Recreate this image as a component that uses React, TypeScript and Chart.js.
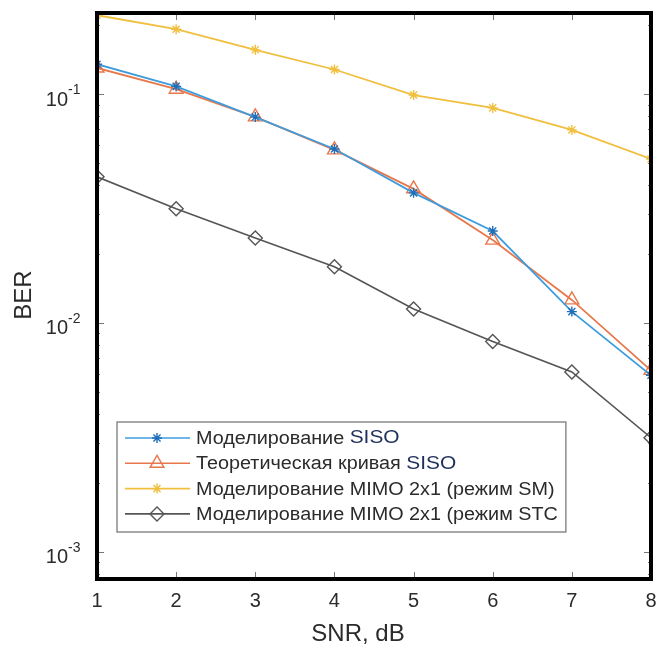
import React, { useEffect, useRef } from 'react';
import { Chart, registerables } from 'chart.js';
import { drawPoint } from 'chart.js/helpers';

Chart.register(...registerables);

// SNR values (dB)
const snr = [1, 2, 3, 4, 5, 6, 7, 8];
// Bit error rates
const berSisoSim = [0.135, 0.108, 0.0793, 0.0575, 0.037, 0.0252, 0.0112, 0.0059];
const berSisoTheory = [0.13, 0.105, 0.0795, 0.057, 0.0385, 0.023, 0.0126, 0.0062];
const berMimoSM = [0.221, 0.192, 0.156, 0.128, 0.099, 0.087, 0.0697, 0.052];
const berMimoSTC = [0.0435, 0.0315, 0.0235, 0.0176, 0.0115, 0.0083, 0.0061, 0.00315];

// Legend entries: main text plus highlighted tail
const legendMain = [
  'Моделирование ',
  'Теоретическая кривая ',
  'Моделирование MIMO 2x1 (режим SM)',
  'Моделирование MIMO 2x1 (режим STC',
];
const legendTail = ['SISO', 'SISO', '', ''];

// Axis settings
const xTicks = [1, 2, 3, 4, 5, 6, 7, 8];
const yDecades = [-3, -2, -1];
const yMin = 7.6e-4;
const yMax = 0.226;
const xTitle = 'SNR, dB';
const yTitle = 'BER';

const seriesColors = ['#3f9ddc', '#e8784c', '#f0bf3e', '#555555'];
const seriesStyles = ['star', 'triangle', 'star', 'rectRot'];
const seriesRadius = [5, 8, 5, 7];
const FONT = '"Liberation Sans", Arial, sans-serif';
const TEXT = '#2b2b2b';
const LEGEND_STRETCH = 1.1;

const toPoints = (ys: number[]) => snr.map((x, i) => ({ x, y: ys[i] }));

const framePlugin = {
  id: 'matlabFrame',
  afterDatasetsDraw(chart: any) {
    const ctx: CanvasRenderingContext2D = chart.ctx;
    const ca = chart.chartArea;
    const xs = chart.scales.x;
    const ys = chart.scales.y;
    ctx.save();

    // tick marks (inside)
    ctx.strokeStyle = '#777777';
    ctx.lineWidth = 1;
    ctx.beginPath();
    for (const t of xTicks) {
      const px = Math.round(xs.getPixelForValue(t)) + 0.5;
      ctx.moveTo(px, ca.bottom);
      ctx.lineTo(px, ca.bottom - 7);
      ctx.moveTo(px, ca.top);
      ctx.lineTo(px, ca.top + 7);
    }
    for (let d = -4; d <= 0; d++) {
      for (let m = 1; m <= 9; m++) {
        const v = m * Math.pow(10, d);
        if (v < yMin || v > yMax) continue;
        const py = Math.round(ys.getPixelForValue(v)) + 0.5;
        const len = m === 1 ? 7 : 3;
        ctx.moveTo(ca.left, py);
        ctx.lineTo(ca.left + len, py);
        ctx.moveTo(ca.right, py);
        ctx.lineTo(ca.right - len, py);
      }
    }
    ctx.stroke();

    // thick box around the axes
    ctx.strokeStyle = '#000000';
    ctx.lineWidth = 4;
    ctx.lineJoin = 'miter';
    ctx.strokeRect(ca.left, ca.top, ca.right - ca.left, ca.bottom - ca.top);

    // x tick labels
    ctx.fillStyle = TEXT;
    ctx.textBaseline = 'middle';
    ctx.textAlign = 'center';
    ctx.font = `20px ${FONT}`;
    for (const t of xTicks) {
      ctx.fillText(String(t), xs.getPixelForValue(t), ca.bottom + 22);
    }

    // y tick labels: 10 with exponent
    for (const e of yDecades) {
      const py = ys.getPixelForValue(Math.pow(10, e));
      ctx.font = `20px ${FONT}`;
      ctx.textAlign = 'right';
      ctx.fillText('10', ca.left - 29, py + 6);
      ctx.font = `14px ${FONT}`;
      ctx.textAlign = 'left';
      ctx.fillText(String(e), ca.left - 29, py - 4);
    }

    // axis titles
    ctx.font = `24px ${FONT}`;
    ctx.textAlign = 'center';
    ctx.fillText(xTitle, (ca.left + ca.right) / 2 - 16, 634);
    ctx.save();
    ctx.translate(24, 295);
    ctx.rotate(-Math.PI / 2);
    ctx.fillText(yTitle, 0, 0);
    ctx.restore();

    // legend box
    const lx = ca.left + 20;
    const rowH = 25.3;
    const lh = 110;
    const ly = ca.bottom - 47 - lh;
    const textX = lx + 79;
    let maxW = 0;
    legendMain.forEach((t, i) => {
      ctx.font = `18px ${FONT}`;
      let w = ctx.measureText(t).width;
      if (legendTail[i]) {
        ctx.font = `19px ${FONT}`;
        w += ctx.measureText(legendTail[i]).width;
      }
      maxW = Math.max(maxW, w * LEGEND_STRETCH);
    });
    const lw = textX - lx + maxW + 8;
    ctx.fillStyle = '#ffffff';
    ctx.fillRect(lx, ly, lw, lh);
    ctx.strokeStyle = '#7a7a7a';
    ctx.lineWidth = 1.3;
    ctx.strokeRect(lx, ly, lw, lh);

    legendMain.forEach((t, i) => {
      const cy = ly + 16 + i * rowH;
      const color = seriesColors[i];
      ctx.strokeStyle = color;
      ctx.lineWidth = 1.6;
      ctx.beginPath();
      ctx.moveTo(lx + 8, cy);
      ctx.lineTo(lx + 73, cy);
      ctx.stroke();
      ctx.fillStyle = 'rgba(0,0,0,0)';
      ctx.strokeStyle = i === 0 ? '#1f6fb8' : color;
      ctx.lineWidth = 1.4;
      drawPoint(ctx, { pointStyle: seriesStyles[i], radius: seriesRadius[i], rotation: 0, borderWidth: 1.4 } as any, lx + 40, cy);

      ctx.save();
      ctx.translate(textX, cy);
      ctx.scale(LEGEND_STRETCH, 1);
      ctx.fillStyle = TEXT;
      ctx.textAlign = 'left';
      ctx.textBaseline = 'middle';
      ctx.font = `18px ${FONT}`;
      ctx.fillText(t, 0, 1);
      if (legendTail[i]) {
        const w = ctx.measureText(t).width;
        ctx.font = `19px ${FONT}`;
        ctx.fillStyle = '#1d2f5a';
        ctx.fillText(legendTail[i], w, 0);
      }
      ctx.restore();
    });

    ctx.restore();
  },
};

export default function App() {
  const canvasRef = useRef<HTMLCanvasElement | null>(null);

  useEffect(() => {
    document.body.style.margin = '0';
    const canvas = canvasRef.current;
    if (!canvas) return;
    const datasets = [berSisoSim, berSisoTheory, berMimoSM, berMimoSTC].map((ys, i) => ({
      label: legendMain[i] + legendTail[i],
      data: toPoints(ys),
      borderColor: seriesColors[i],
      borderWidth: i === 3 ? 1.6 : 1.8,
      pointStyle: seriesStyles[i],
      pointRadius: seriesRadius[i],
      pointHoverRadius: seriesRadius[i],
      pointBorderColor: i === 0 ? '#1f6fb8' : seriesColors[i],
      pointBackgroundColor: 'rgba(0,0,0,0)',
      pointBorderWidth: 1.4,
      tension: 0,
      fill: false,
    }));
    const chart = new Chart(canvas, {
      type: 'line',
      data: { datasets },
      plugins: [framePlugin],
      options: {
        responsive: false,
        animation: false,
        devicePixelRatio: 1,
        layout: { autoPadding: false, padding: { left: 0, top: 13, right: 5, bottom: 0 } },
        plugins: { legend: { display: false }, tooltip: { enabled: false } },
        scales: {
          x: {
            type: 'linear',
            min: 1,
            max: 8,
            grid: { display: false },
            border: { display: false },
            ticks: { display: false, stepSize: 1 },
            afterFit: (s: any) => {
              s.height = 68;
            },
          },
          y: {
            type: 'logarithmic',
            min: yMin,
            max: yMax,
            grid: { display: false },
            border: { display: false },
            ticks: { display: false },
            afterFit: (s: any) => {
              s.width = 97;
            },
          },
        },
      },
    } as any);
    return () => chart.destroy();
  }, []);

  return (
    <div style={{ width: 656, height: 647, background: '#ffffff' }}>
      <canvas ref={canvasRef} width={656} height={647} style={{ display: 'block' }} />
    </div>
  );
}
